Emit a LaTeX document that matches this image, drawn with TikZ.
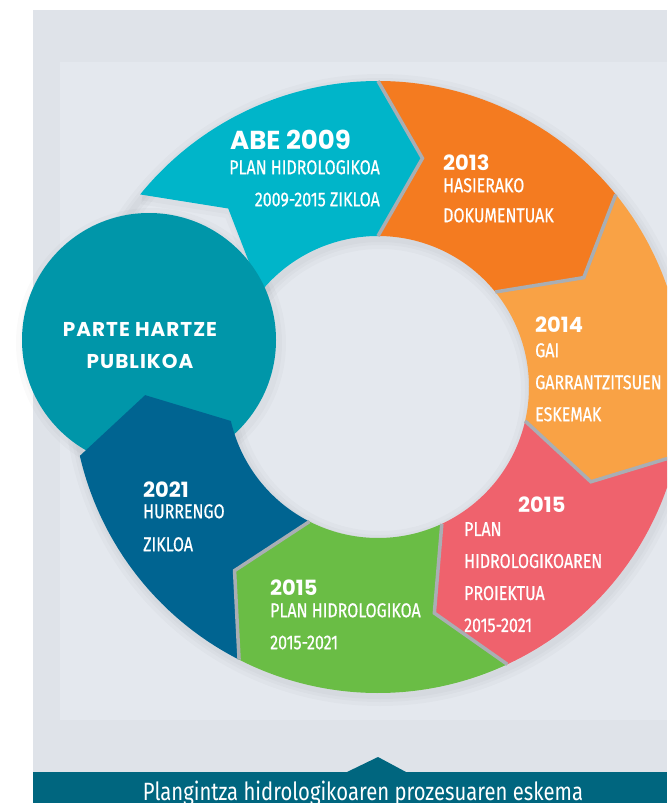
\documentclass[tikz,border=0pt]{standalone}
\usepackage{fontspec}
\setmainfont{Fira Sans}
\newfontfamily\yearfont{Poppins}
\newfontfamily\widefont{Poppins}[LetterSpace=5]
\newfontfamily\bodyfont{Fira Sans}[FakeStretch=0.8, FakeBold=0.6]
\newfontfamily\captionfont{Fira Sans}[FakeStretch=0.81]

\definecolor{panelgrey}{HTML}{DFE3E9}
\definecolor{innergrey}{HTML}{E4E8EE}
\definecolor{sepgrey}{HTML}{A9AEB4}
\definecolor{cyanseg}{HTML}{00B5C9}
\definecolor{orangeseg}{HTML}{F47B20}
\definecolor{lightorangeseg}{HTML}{F9A245}
\definecolor{pinkseg}{HTML}{EF626D}
\definecolor{greenseg}{HTML}{6ABD45}
\definecolor{blueseg}{HTML}{006491}
\definecolor{tealcircle}{HTML}{0096A9}
\definecolor{bannerteal}{HTML}{00667F}

\begin{document}
\begin{tikzpicture}[x=1pt, y=1pt,
	year/.style={font=\yearfont\bfseries\fontsize{21}{26}\selectfont, text=white, inner sep=0pt, anchor=north west},
	body/.style={font=\bodyfont\fontsize{20}{32}\selectfont, text=white, inner sep=0pt, anchor=north west, align=left},
	sepline/.style={draw=sepgrey, line width=3.5, line join=miter},
	glow/.style={draw=black, draw opacity=0.02}]
	
	\useasboundingbox (0,0) rectangle (667,-803);
	\clip (0,0) rectangle (667,-803);
	
	% Background panels
	\fill[panelgrey] (33,-10) rectangle (667,-803);
	\fill[innergrey] (60,-62) rectangle (667,-720);
	
	% Soft shadows of the ring and the circle
	\begin{scope}[shift={(380,-390)}]
		\draw[glow, line width=20] (0,0) circle (306);
		\draw[glow, line width=12] (0,0) circle (306);
		\draw[glow, line width=6] (0,0) circle (306);
		\draw[glow, line width=20] (0,0) circle (151);
		\draw[glow, line width=12] (0,0) circle (151);
		\draw[glow, line width=6] (0,0) circle (151);
		\draw[glow, line width=14] (141:306) -- (130:233) -- (140:151);
		\draw[glow, line width=6] (141:306) -- (130:233) -- (140:151);
	\end{scope}
	\begin{scope}[shift={(151,-343)}]
		\draw[glow, line width=16] (0,0) circle (127);
		\draw[glow, line width=8] (0,0) circle (127);
	\end{scope}
	
	\begin{scope}[shift={(378,-387)}]
		% Cyan segment (ABE 2009)
		\fill[cyanseg] (141:306) arc[start angle=141, end angle=90, radius=306] -- (79:233) -- (90:151)
			arc[start angle=90, end angle=141, radius=151] -- (130:233) -- cycle;
		% Orange segment (2013)
		\fill[orangeseg] (90:306) arc[start angle=90, end angle=39, radius=306] -- (28:233) -- (39:151)
			arc[start angle=39, end angle=90, radius=151] -- (79:233) -- cycle;
		% Light orange segment (2014)
		\fill[lightorangeseg] (39:306) arc[start angle=39, end angle=-13, radius=306] -- (-24:233) -- (-13:151)
			arc[start angle=-13, end angle=39, radius=151] -- (28:233) -- cycle;
		% Pink segment (2015 proiektua)
		\fill[pinkseg] (-13:306) arc[start angle=-13, end angle=-65, radius=306] -- (-76:233) -- (-65:151)
			arc[start angle=-65, end angle=-13, radius=151] -- (-24:233) -- cycle;
		% Green segment (2015 plan)
		\fill[greenseg] (-65:306) arc[start angle=-65, end angle=-117, radius=306] -- (-128:233) -- (-117:151)
			arc[start angle=-117, end angle=-65, radius=151] -- (-76:233) -- cycle;
	\end{scope}
	
	% Public participation circle
	\fill[tealcircle] (149,-340) circle (127);
	
	\begin{scope}[shift={(378,-387)}]
		% Dark blue segment (2021)
		\fill[blueseg] (-117:306) arc[start angle=-117, end angle=-167, radius=306] -- (-178:233) -- (-167:151)
			arc[start angle=-167, end angle=-117, radius=151] -- (-128:233) -- cycle;
		
		% Grey edges between segments
		\draw[sepline] (90:306) -- (79:233) -- (90:151);
		\draw[sepline] (39:306) -- (28:233) -- (39:151);
		\draw[sepline] (-13:306) -- (-24:233) -- (-13:151);
		\draw[sepline] (-65:306) -- (-76:233) -- (-65:151);
		\draw[sepline] (-117:306) -- (-128:233) -- (-117:151);
	\end{scope}
	
	% Labels
	\node[year, font=\yearfont\bfseries\fontsize{26}{30}\selectfont] (abe) at (230,-130) {ABE 2009};
	\node[body, anchor=north east, align=right] (abetxt) at (380,-160) {PLAN HIDROLOGIKOA\\2009-2015 ZIKLOA};
	
	\node[year] (y2013) at (443,-155) {2013};
	\node[body, font=\bodyfont\fontsize{20}{30}\selectfont] (t2013) at (443,-178) {HASIERAKO\\DOKUMENTUAK};
	
	\node[year, font=\widefont\bfseries\fontsize{20}{32}\selectfont, anchor=north, align=center] (parte) at (140,-322) {PARTE HARTZE\\PUBLIKOA};
	
	\node[year] (y2014) at (535,-317) {2014};
	\node[body] (t2014) at (535,-343) {GAI\\GARRANTZITSUEN\\ESKEMAK};
	
	\node[year] (y2015p) at (518,-497) {2015};
	\node[body] (t2015p) at (464,-522) {PLAN\\HIDROLOGIKOAREN\\PROIEKTUA\\2015-2021};
	
	\node[year] (y2015g) at (270,-580) {2015};
	\node[body] (t2015g) at (270,-603) {PLAN HIDROLOGIKOA\\2015-2021};
	
	\node[year] (y2021) at (143,-482) {2021};
	\node[body, font=\bodyfont\fontsize{20}{33}\selectfont] (t2021) at (143,-504) {HURRENGO\\ZIKLOA};
	
	% Caption banner
	\fill[bannerteal] (33,-772) rectangle (667,-803);
	\fill[bannerteal] (347,-772) -- (378,-757) -- (406,-772) -- cycle;
	\node[font=\captionfont\fontsize{25}{30}\selectfont, text=white, inner sep=0pt, anchor=base] (caption) at (363,-800) {Plangintza hidrologikoaren prozesuaren eskema};
	
\end{tikzpicture}
\end{document}
